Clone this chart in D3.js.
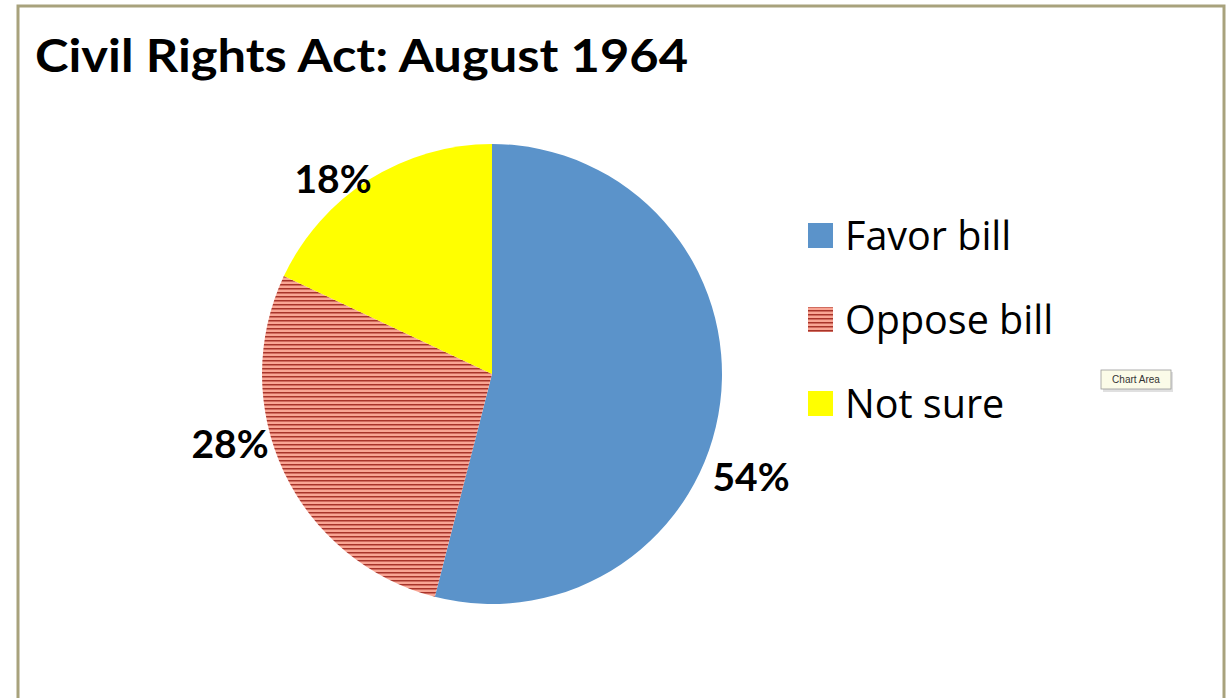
<!DOCTYPE html>
<html><head><meta charset="utf-8">
<script src="https://cdn.jsdelivr.net/npm/d3@7"></script>
<style>body{margin:0;background:#fff;}svg{display:block;}</style>
</head><body>
<script>
const categories = ["Favor bill", "Oppose bill", "Not sure"];
const values = [54, 28, 18];
const labels = ["54%", "28%", "18%"];
const title = "Civil Rights Act: August 1964";

const W = 1230, H = 698;
const svg = d3.select("body").append("svg").attr("width", W).attr("height", H);
const defs = svg.append("defs");
const pat = defs.append("pattern").attr("id", "hatch").attr("patternUnits", "userSpaceOnUse")
  .attr("width", 8).attr("height", 4);
pat.append("rect").attr("width", 8).attr("height", 4).attr("fill", "#f8a594");
pat.append("rect").attr("y", 2).attr("width", 8).attr("height", 1.5).attr("fill", "#a8342a");

const fills = ["#5b93ca", "url(#hatch)", "#ffff00"];

// frame
svg.append("rect").attr("x", 18).attr("y", 6).attr("width", 1206).attr("height", 700)
  .attr("fill", "#fff").attr("stroke", "#a8a27c").attr("stroke-width", 3);

svg.append("text").attr("x", 35).attr("y", 72).text(title)
  .attr("font-family", "Lato, 'Open Sans', sans-serif").attr("font-weight", "bold")
  .attr("font-size", 45).attr("fill", "#000")
  .attr("textLength", 653).attr("lengthAdjust", "spacingAndGlyphs");

const cx = 492, cy = 374, r = 230;
const pie = d3.pie().sort(null).value(d => d)(values);
const arc = d3.arc().innerRadius(0).outerRadius(r);
const g = svg.append("g").attr("transform", `translate(${cx},${cy})`);
g.selectAll("path").data(pie).join("path").attr("d", arc).attr("fill", (d, i) => fills[i]);

// label positions, relative to the pie centre
const labelOffsets = [[259, 103], [-262, 70], [-159, -195]];
g.selectAll("text.lab").data(pie).join("text").attr("class", "lab")
  .attr("x", (d, i) => labelOffsets[i][0]).attr("y", (d, i) => labelOffsets[i][1])
  .attr("text-anchor", "middle").attr("dy", "0.36em")
  .attr("font-family", "Lato, 'Open Sans', sans-serif").attr("font-weight", "bold")
  .attr("font-size", 39).text((d, i) => labels[i]);

const lg = svg.append("g");
const ly = d3.scalePoint().domain(categories).range([250, 418]);
categories.forEach((c, i) => {
  lg.append("rect").attr("x", 808).attr("y", ly(c) - 27).attr("width", 25).attr("height", 25)
    .attr("fill", fills[i]);
  lg.append("text").attr("x", 845).attr("y", ly(c)).text(c)
    .attr("font-family", "'Open Sans', sans-serif").attr("font-size", 39.5).attr("fill", "#000");
});

// tooltip
const tt = svg.append("g").attr("transform", "translate(1101,370)");
tt.append("rect").attr("x", 2).attr("y", 2).attr("width", 70).attr("height", 20).attr("fill", "#ccc").attr("opacity", 0.6);
tt.append("rect").attr("width", 70).attr("height", 19).attr("fill", "#fbfbe8").attr("stroke", "#999").attr("stroke-width", 0.8);
tt.append("text").attr("x", 35).attr("y", 13).attr("text-anchor", "middle").attr("font-size", 10)
  .attr("font-family", "'Liberation Sans Narrow', 'Liberation Sans', sans-serif").attr("fill", "#333").text("Chart Area");
</script>
</body></html>
